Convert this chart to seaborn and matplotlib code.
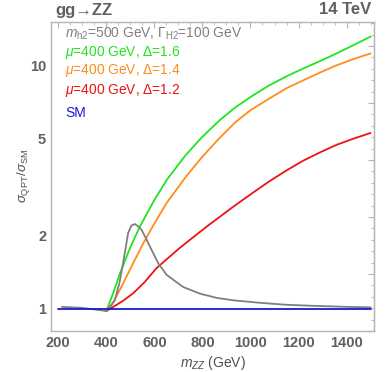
import numpy as np
import pandas as pd
import matplotlib
matplotlib.use("Agg")
import matplotlib.pyplot as plt
from matplotlib.ticker import FixedLocator, FixedFormatter, MultipleLocator, NullFormatter
import seaborn as sns

# values (m_ZZ in GeV, ratio sigma_QPT / sigma_SM)
green_x = [400, 430, 457, 500, 540, 600, 655, 730, 796, 870, 936, 1000, 1077, 1150, 1218, 1290, 1358, 1430, 1500]
green_y = [0.98, 1.17, 1.40, 1.79, 2.18, 2.80, 3.42, 4.27, 5.04, 5.92, 6.70, 7.40, 8.25, 9.00, 9.67, 10.4, 11.17, 12.1, 13.1]

orange_x = [400, 430, 457, 500, 554, 600, 651, 730, 796, 870, 936, 1000, 1077, 1150, 1218, 1290, 1358, 1430, 1500]
orange_y = [0.98, 1.07, 1.20, 1.46, 1.86, 2.24, 2.72, 3.47, 4.17, 5.01, 5.82, 6.53, 7.28, 8.04, 8.65, 9.33, 9.98, 10.6, 11.17]

red_x = [400, 443, 470, 512, 560, 609, 700, 762, 824, 936, 1025, 1077, 1150, 1218, 1290, 1358, 1430, 1500]
red_y = [0.98, 1.04, 1.08, 1.16, 1.29, 1.47, 1.76, 1.97, 2.20, 2.66, 3.07, 3.33, 3.70, 4.05, 4.39, 4.71, 5.00, 5.27]

gray_x = [215, 300, 370, 400, 420, 436, 455, 470, 491, 505, 519, 533, 547, 565, 582, 616, 651, 720, 790, 860, 928, 1039, 1150, 1261, 1400, 1500]
gray_y = [1.02, 1.01, 0.99, 0.98, 1.03, 1.09, 1.28, 1.54, 2.05, 2.20, 2.23, 2.18, 2.11, 1.95, 1.80, 1.54, 1.38, 1.23, 1.155, 1.11, 1.085, 1.06, 1.04, 1.03, 1.02, 1.015]

sm_x = [200, 1500]
sm_y = [1.0, 1.0]

labels = [
    r"$m_{\mathrm{h2}}$=500 GeV, $\Gamma_{\mathrm{H2}}$=100 GeV",
    r"$\mu$=400 GeV, $\Delta$=1.6",
    r"$\mu$=400 GeV, $\Delta$=1.4",
    r"$\mu$=400 GeV, $\Delta$=1.2",
    "SM",
]
colors = {"green": "#1fe51f", "orange": "#ff8c1a", "red": "#ee1111", "gray": "#7f7f7f", "sm": "#1a1acc"}

parts = []
for name, xs, ys in [("green", green_x, green_y), ("orange", orange_x, orange_y),
                     ("red", red_x, red_y), ("gray", gray_x, gray_y), ("sm", sm_x, sm_y)]:
    parts.append(pd.DataFrame({"mzz": xs, "ratio": ys, "curve": name}))
df = pd.concat(parts, ignore_index=True)

sns.set_style("white")
plt.rcParams["font.family"] = ["Liberation Sans", "DejaVu Sans"]
plt.rcParams["mathtext.fontset"] = "custom"
plt.rcParams["mathtext.rm"] = "Liberation Sans"
plt.rcParams["mathtext.it"] = "Liberation Sans:italic"
plt.rcParams["mathtext.bf"] = "Liberation Sans:bold"

fig = plt.figure(figsize=(3.88, 3.72), dpi=100)
ax = fig.add_axes([51 / 388, 41 / 372, 323 / 388, 309.5 / 372])

sns.lineplot(data=df, x="mzz", y="ratio", hue="curve", palette=colors,
             estimator=None, sort=False, linewidth=1.3, legend=False, ax=ax)

ax.set_yscale("log")
ax.set_xlim(170, 1514)
ax.set_ylim(0.812, 15.1)

tick_col = "#606060"
frame_col = "#b4b4b4"
ax.yaxis.set_major_locator(FixedLocator([1, 2, 5, 10]))
ax.yaxis.set_major_formatter(FixedFormatter(["1", "2", "5", "10"]))
ax.yaxis.set_minor_locator(FixedLocator([1.5, 3, 4, 7, 15]))
ax.yaxis.set_minor_formatter(NullFormatter())
ax.xaxis.set_major_locator(MultipleLocator(200))
ax.xaxis.set_minor_locator(MultipleLocator(50))

for sp in ax.spines.values():
    sp.set_color(frame_col)
    sp.set_linewidth(1.0)
ax.tick_params(which="both", direction="in", color=frame_col, top=True, right=False,
               labelcolor=tick_col, labelsize=10.5)
ax.tick_params(which="major", length=4, width=0.8)
ax.tick_params(which="minor", length=2, width=0.6)
for lab in ax.get_xticklabels() + ax.get_yticklabels():
    lab.set_fontweight("bold")

# right frame: unlabeled ticks evenly spaced in ln
sec = ax.secondary_yaxis("right", functions=(np.log, np.exp))
sec.yaxis.set_major_locator(MultipleLocator(0.5))
sec.yaxis.set_minor_locator(MultipleLocator(0.1))
sec.yaxis.set_major_formatter(NullFormatter())
sec.yaxis.set_minor_formatter(NullFormatter())
sec.spines["right"].set_color(frame_col)
sec.tick_params(which="both", direction="in", color=frame_col)
sec.tick_params(which="major", length=4, width=0.8)
sec.tick_params(which="minor", length=2, width=0.6)

ax.set_xlabel(r"$m_{ZZ}$ (GeV)", color="#505050", fontsize=10, labelpad=3)
ax.set_ylabel(r"$\sigma_{\mathrm{QPT}}/\sigma_{\mathrm{SM}}$", color="#505050", fontsize=9.5)
ax.yaxis.label.set_verticalalignment("center")
ax.yaxis.set_label_coords((23 - 51) / 323, 0.5)

fig.text(55 / 388, 1 - 10 / 372, "gg→ZZ", color="#606060", fontsize=12, fontweight="bold",
         ha="left", va="center")
fig.text(371 / 388, 1 - 10 / 372, "14 TeV", color="#606060", fontsize=12, fontweight="bold",
         ha="right", va="center")

text_cols = ["#7f7f7f", "#1fe51f", "#ff8c1a", "#ee1111", "#1a1acc"]
text_y = [33.3, 52.7, 70.7, 90.7, 113.3]
for lab, col, yp in zip(labels, text_cols, text_y):
    ax.text((65 - 51) / 323, (331 - yp) / 309.5, lab, color=col, fontsize=9.9,
            ha="left", va="center", transform=ax.transAxes)

fig.savefig("out.png", dpi=100)
